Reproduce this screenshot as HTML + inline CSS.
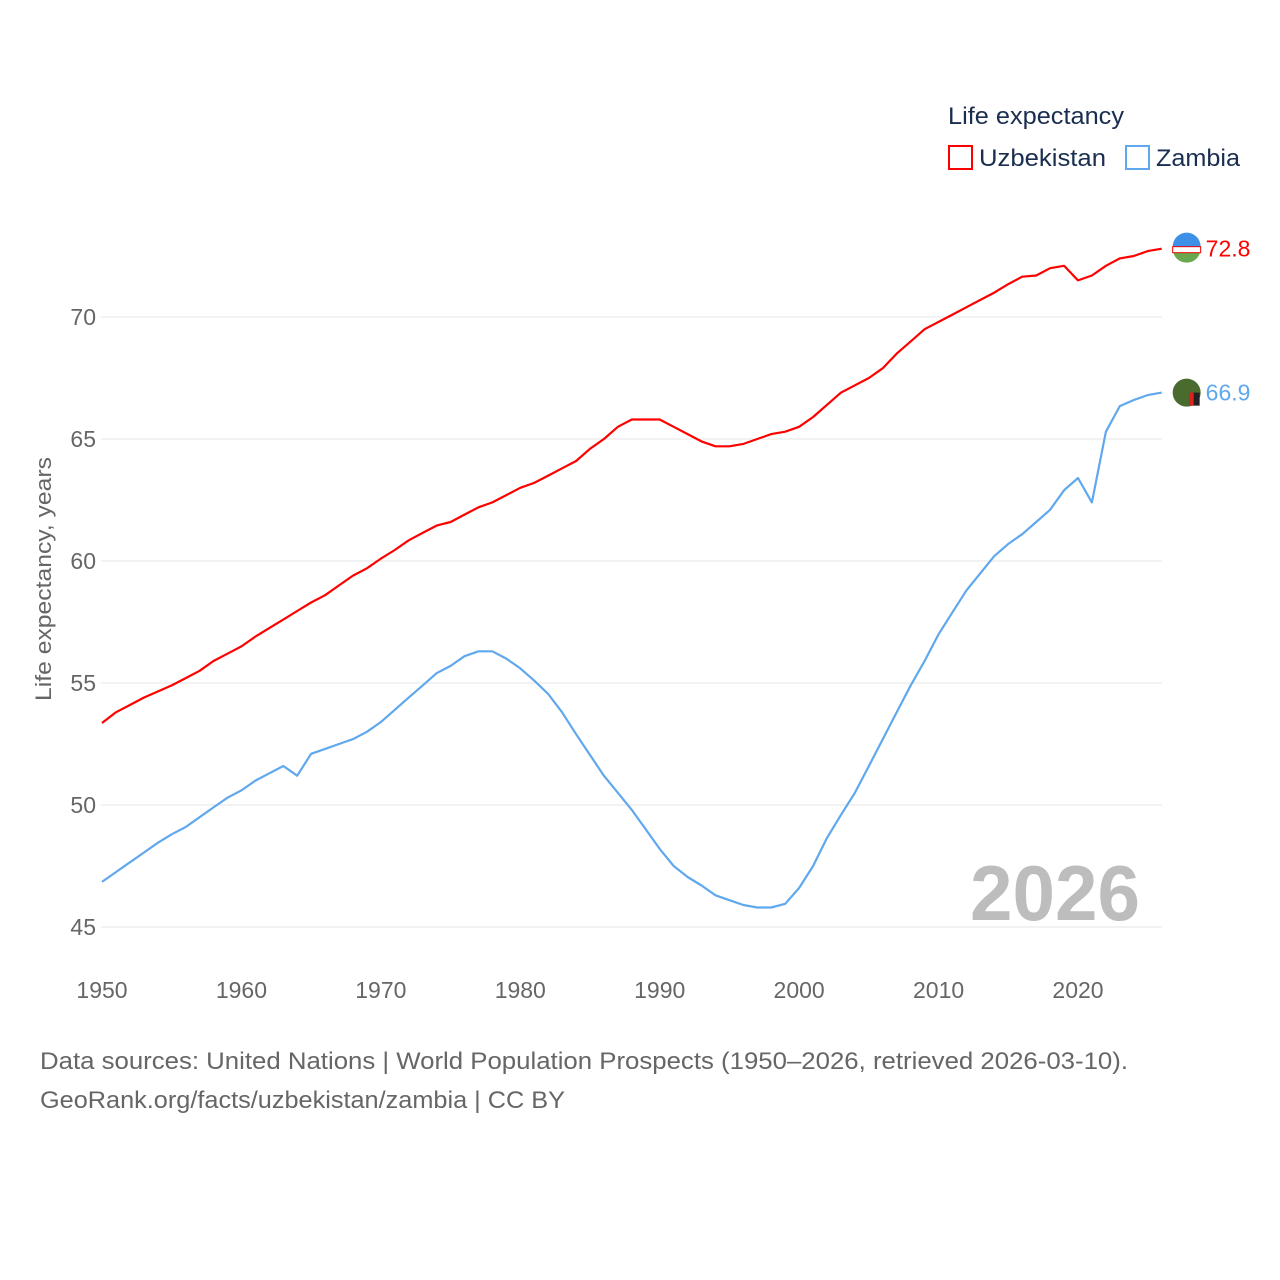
<!DOCTYPE html>
<html><head><meta charset="utf-8"><style>
html,body{margin:0;padding:0;background:#fff;}
svg{display:block;font-family:"Liberation Sans",sans-serif;}
</style></head><body>
<svg id="chart" width="1280" height="1280" viewBox="0 0 1280 1280" xmlns="http://www.w3.org/2000/svg">
<g id="grid"></g>
<g id="yticks"></g>
<g id="xticks"></g>
<text transform="translate(51,579) rotate(-90)" text-anchor="middle" font-size="22" fill="#666" textLength="244" lengthAdjust="spacingAndGlyphs">Life expectancy, years</text>
<text x="1140" y="920" text-anchor="end" font-size="78" font-weight="bold" fill="#bdbdbd" textLength="170" lengthAdjust="spacingAndGlyphs">2026</text>
<g id="series"></g>
<g>
<text x="948" y="124" font-size="24" fill="#1a2e4f" textLength="176" lengthAdjust="spacingAndGlyphs">Life expectancy</text>
<g>
<rect x="949" y="146" width="23" height="23" fill="none" stroke="#ff0000" stroke-width="2"/>
<text x="979" y="166" font-size="24" fill="#1a2e4f" textLength="127" lengthAdjust="spacingAndGlyphs">Uzbekistan</text></g>
<g>
<rect x="1126" y="146" width="23" height="23" fill="none" stroke="#60a8ee" stroke-width="2"/>
<text x="1156" y="166" font-size="24" fill="#1a2e4f" textLength="84" lengthAdjust="spacingAndGlyphs">Zambia</text></g>
</g>
<text x="40" y="1069" font-size="24" fill="#666" textLength="1088" lengthAdjust="spacingAndGlyphs">Data sources: United Nations | World Population Prospects (1950–2026, retrieved 2026-03-10).</text>
<text x="40" y="1108" font-size="24" fill="#666" textLength="525" lengthAdjust="spacingAndGlyphs">GeoRank.org/facts/uzbekistan/zambia | CC BY</text>
</svg>
<script>
const years = [];
for (let y = 1950; y <= 2026; y++) years.push(y);
const uzbekistan = [53.36,53.8,54.1,54.4,54.65,54.9,55.2,55.5,55.9,56.2,56.5,56.9,57.25,57.6,57.95,58.3,58.6,59.0,59.4,59.7,60.1,60.45,60.85,61.15,61.45,61.6,61.9,62.2,62.4,62.7,63.0,63.2,63.5,63.8,64.1,64.6,65.0,65.5,65.8,65.8,65.8,65.5,65.2,64.9,64.7,64.7,64.8,65.0,65.2,65.3,65.5,65.9,66.4,66.9,67.2,67.5,67.9,68.5,69.0,69.5,69.8,70.1,70.4,70.7,71.0,71.35,71.65,71.7,72.0,72.1,71.5,71.7,72.1,72.4,72.5,72.7,72.8];
const zambia = [46.85,47.25,47.65,48.05,48.45,48.8,49.1,49.5,49.9,50.3,50.6,51.0,51.3,51.6,51.2,52.1,52.3,52.5,52.7,53.0,53.4,53.9,54.4,54.9,55.4,55.7,56.1,56.3,56.3,56.0,55.6,55.1,54.55,53.8,52.9,52.05,51.2,50.5,49.8,49.0,48.2,47.5,47.05,46.7,46.3,46.1,45.9,45.8,45.8,45.95,46.6,47.5,48.65,49.6,50.5,51.6,52.7,53.8,54.9,55.9,57.0,57.9,58.8,59.5,60.2,60.7,61.1,61.6,62.1,62.9,63.4,62.4,65.3,66.35,66.6,66.8,66.9];
const yTicks = [45,50,55,60,65,70];
const xTicks = [1950,1960,1970,1980,1990,2000,2010,2020];
const NS = "http://www.w3.org/2000/svg";
const xs = y => 102 + (y - 1950) * (1078 - 102) / 70;
const ys = v => 317 + (70 - v) * (927 - 317) / 25;
function mk(tag, attrs, parent){const e=document.createElementNS(NS,tag);for(const k in attrs)e.setAttribute(k,attrs[k]);parent.appendChild(e);return e;}
const grid=document.getElementById('grid'), yt=document.getElementById('yticks'), xt=document.getElementById('xticks'), ser=document.getElementById('series');
yTicks.forEach(v=>{
  const l=mk('line',{x1:101,x2:1162,y1:ys(v),y2:ys(v),stroke:'#e6e6e6','stroke-width':1},grid);
  
  
  const t=mk('text',{x:96,y:ys(v)+8,'text-anchor':'end','font-size':23,fill:'#666'},yt);
  t.textContent=v;
  
  
});
xTicks.forEach(v=>{
  const t=mk('text',{x:xs(v),y:998,'text-anchor':'middle','font-size':23,fill:'#666'},xt);
  t.textContent=v;
  
  
});
function line(vals,color,name){
  const d=vals.map((v,i)=>(i?'L':'M')+xs(years[i]).toFixed(1)+','+ys(v).toFixed(1)).join('');
  const p=mk('path',{d:d,fill:'none',stroke:color,'stroke-width':2.2,'stroke-linejoin':'round'},ser);
  
  
  const last=vals[vals.length-1], lx=xs(years[years.length-1]), ly=ys(last);
  const c=mk('circle',{cx:lx+25,cy:ly,r:14,fill:name==='uzbekistan'?'#6aa84f':'#4a6b2e'},ser);
  
  
  if(name==='uzbekistan'){
    const top=mk('path',{d:`M${lx+11},${ly-2} A14,14 0 0 1 ${lx+39},${ly-2} Z`,fill:'#3d8fe8'},ser);
    
    
    const mid=mk('rect',{x:lx+11,y:ly-2,width:28,height:6,fill:'#fff',stroke:'#e00',"stroke-width":1},ser);
    
    
  } else {
    const st=mk('rect',{x:lx+28,y:ly,width:10,height:13,fill:'#222'},ser);
    
    
    const red=mk('rect',{x:lx+28,y:ly,width:4,height:13,fill:'#d22'},ser);
    
    
  }
  const t=mk('text',{x:lx+44,y:ly+8,'font-size':23,fill:color},ser);
  t.textContent=last.toFixed(1);
  
  
}
line(uzbekistan,'#ff0000','uzbekistan');
line(zambia,'#60a8ee','zambia');
</script>
</body></html>
